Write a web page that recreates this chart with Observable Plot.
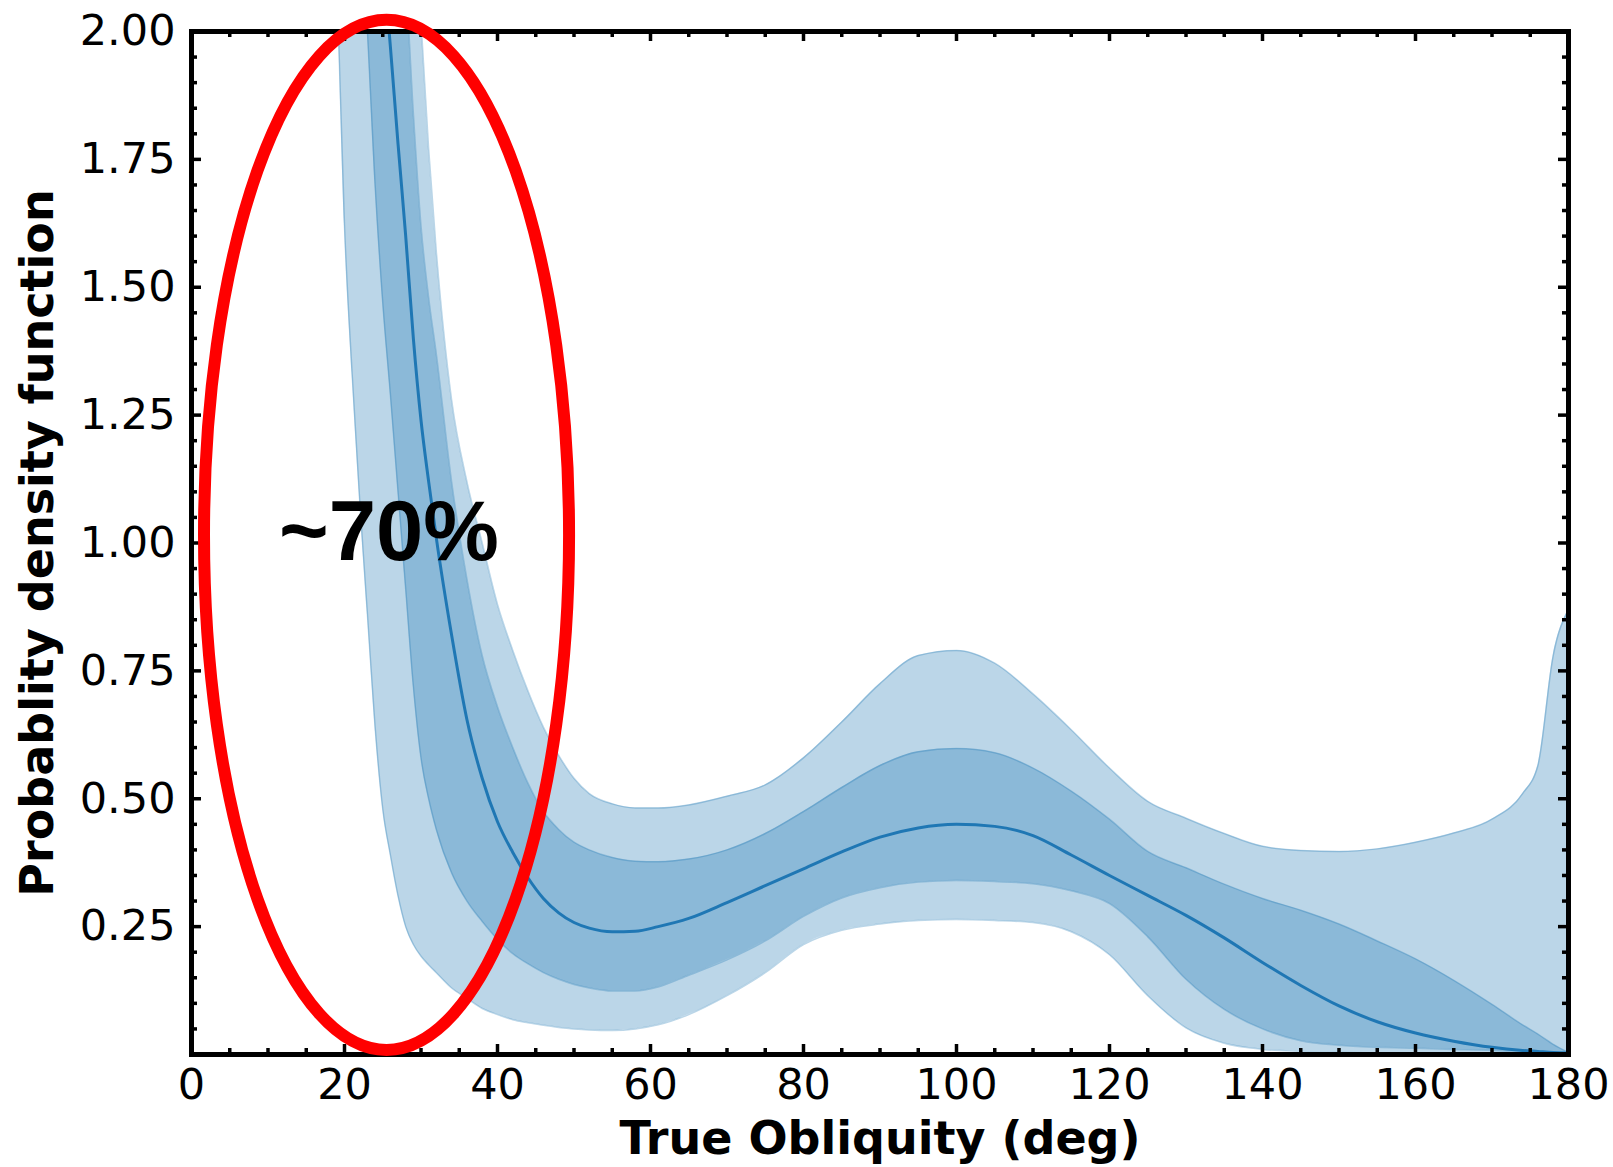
<!DOCTYPE html>
<html>
<head>
<meta charset="utf-8">
<script src="https://cdn.jsdelivr.net/npm/d3@7"></script>
<script src="https://cdn.jsdelivr.net/npm/@observablehq/plot@0.6"></script>
<style>
  html, body { margin: 0; padding: 0; background: #ffffff; }
  #chart svg { display: block; }
</style>
</head>
<body>
<div id="chart"></div>
<script>
// ---------- data ----------
const obliquity = [17,18,19,20,21,22,23,24,25,26,27,28,29,30,31,32,34,36,38,40,42,44,46,48,50,52,55,58,61,65,70,75,80,85,90,95,100,105,110,115,120,125,130,135,140,145,150,155,160,165,170,174,176,178,180];
const lower2 = [2.80,2.45,2.10,1.62,1.33,1.08,0.86,0.64,0.48,0.39,0.31,0.25,0.215,0.192,0.175,0.16,0.13,0.11,0.09,0.078,0.068,0.062,0.057,0.053,0.050,0.048,0.047,0.050,0.058,0.078,0.115,0.160,0.215,0.243,0.255,0.262,0.264,0.262,0.258,0.240,0.195,0.115,0.052,0.022,0.010,0.006,0.004,0.003,0.002,0.001,0.001,0,0,0,0];
const lower1 = [4.0,3.6,3.2,2.8,2.5,2.25,2.0,1.70,1.47,1.29,1.10,0.91,0.72,0.58,0.50,0.44,0.355,0.30,0.26,0.225,0.197,0.177,0.160,0.147,0.137,0.130,0.124,0.124,0.132,0.155,0.185,0.222,0.270,0.306,0.326,0.337,0.340,0.338,0.334,0.320,0.295,0.230,0.147,0.088,0.050,0.027,0.018,0.014,0.012,0.010,0.008,0.005,0.004,0.002,0];
const median = [5.0,4.5,4.0,3.55,3.15,2.82,2.55,2.33,2.15,1.97,1.78,1.60,1.40,1.24,1.12,1.01,0.82,0.655,0.54,0.455,0.395,0.345,0.305,0.277,0.258,0.247,0.240,0.241,0.250,0.266,0.297,0.330,0.363,0.396,0.425,0.443,0.450,0.446,0.428,0.390,0.350,0.311,0.272,0.228,0.180,0.135,0.095,0.064,0.042,0.026,0.014,0.008,0.006,0.004,0.003];
const upper1 = [6.0,5.4,4.8,4.3,3.85,3.45,3.10,2.80,2.55,2.37,2.22,2.10,1.84,1.62,1.48,1.37,1.12,0.93,0.78,0.68,0.60,0.53,0.475,0.44,0.415,0.400,0.385,0.378,0.377,0.382,0.400,0.432,0.475,0.522,0.565,0.592,0.598,0.590,0.560,0.515,0.460,0.397,0.365,0.333,0.305,0.282,0.255,0.222,0.187,0.145,0.098,0.058,0.040,0.020,0.004];
const upper2 = [7.0,6.3,5.6,5.0,4.5,4.0,3.6,3.25,2.95,2.70,2.55,2.40,2.22,2.02,1.77,1.57,1.28,1.12,1.00,0.88,0.79,0.71,0.64,0.585,0.54,0.51,0.49,0.482,0.482,0.488,0.505,0.527,0.580,0.650,0.725,0.780,0.790,0.765,0.705,0.635,0.560,0.495,0.462,0.432,0.407,0.399,0.397,0.402,0.415,0.433,0.460,0.510,0.565,0.780,0.870];

const xTickValues = [0,20,40,60,80,100,120,140,160,180];
const xTickLabels = ["0","20","40","60","80","100","120","140","160","180"];
const xMinorValues = [5,10,15,25,30,35,45,50,55,65,70,75,85,90,95,105,110,115,125,130,135,145,150,155,165,170,175];
const yTickValues = [0.25,0.50,0.75,1.00,1.25,1.50,1.75,2.00];
const yTickLabels = ["0.25","0.50","0.75","1.00","1.25","1.50","1.75","2.00"];
const yMinorValues = [0.05,0.10,0.15,0.20,0.30,0.35,0.40,0.45,0.55,0.60,0.65,0.70,0.80,0.85,0.90,0.95,1.05,1.10,1.15,1.20,1.30,1.35,1.40,1.45,1.55,1.60,1.65,1.70,1.80,1.85,1.90,1.95];

const xAxisLabel = "True Obliquity (deg)";
const yAxisLabel = "Probablity density function";
const annotationText = [{x: 25.8, y: 1.019, text: "~70%"}];
const annotationEllipse = [{cx: 25.56, cy: 1.015, rx: 23.86, ry: 1.007}];

// ---------- table for the library ----------
const table = obliquity.map((x, i) => ({
  x, lo2: lower2[i], lo1: lower1[i], med: median[i], hi1: upper1[i], hi2: upper2[i]
}));

// ---------- layout ----------
const W = 1613, H = 1167;
const mL = 191, mR = 45, mT = 31, mB = 113;
const pxPerX = (W - mL - mR) / 180;
const pxPerY = (H - mT - mB) / 2;
const majLen = 10, minLen = 6;
const majX = majLen / pxPerX, minX = minLen / pxPerX;
const majY = majLen / pxPerY, minY = minLen / pxPerY;
const blue = "#1f77b4";

function ellipseMark() {
  const s = Array.from(arguments).find(a => a && typeof a.x === "function" && typeof a.y === "function");
  const g = d3.create("svg:g");
  if (!s) return g.node();
  for (const e of annotationEllipse) {
    const cx = s.x(e.cx), cy = s.y(e.cy);
    g.append("ellipse")
      .attr("cx", cx).attr("cy", cy)
      .attr("rx", Math.abs(s.x(e.cx + e.rx) - cx))
      .attr("ry", Math.abs(s.y(e.cy - e.ry) - cy))
      .attr("fill", "none")
      .attr("stroke", "#ff0000")
      .attr("stroke-width", 12);
  }
  return g.node();
}

const xLabelMap = new Map(xTickValues.map((v, i) => [v, xTickLabels[i]]));
const yLabelMap = new Map(yTickValues.map((v, i) => [v, yTickLabels[i]]));

const chart = Plot.plot({
  width: W,
  height: H,
  marginLeft: mL,
  marginRight: mR,
  marginTop: mT,
  marginBottom: mB,
  style: {fontFamily: "'DejaVu Sans', sans-serif", fontSize: "43px", background: "#ffffff", color: "#000000", overflow: "visible"},
  x: {domain: [0, 180]},
  y: {domain: [0, 2]},
  marks: [
    // 2-sigma band
    Plot.areaY(table, {x: "x", y1: "lo2", y2: "hi2", fill: blue, fillOpacity: 0.3, curve: "monotone-x", clip: true}),
    Plot.line(table, {x: "x", y: "lo2", stroke: blue, strokeOpacity: 0.3, strokeWidth: 1.5, curve: "monotone-x", clip: true}),
    Plot.line(table, {x: "x", y: "hi2", stroke: blue, strokeOpacity: 0.3, strokeWidth: 1.5, curve: "monotone-x", clip: true}),
    // 1-sigma band
    Plot.areaY(table, {x: "x", y1: "lo1", y2: "hi1", fill: blue, fillOpacity: 0.3, curve: "monotone-x", clip: true}),
    Plot.line(table, {x: "x", y: "lo1", stroke: blue, strokeOpacity: 0.3, strokeWidth: 1.5, curve: "monotone-x", clip: true}),
    Plot.line(table, {x: "x", y: "hi1", stroke: blue, strokeOpacity: 0.3, strokeWidth: 1.5, curve: "monotone-x", clip: true}),
    // median
    Plot.line(table, {x: "x", y: "med", stroke: blue, strokeWidth: 3, curve: "monotone-x", clip: true}),
    // inward ticks on all four sides
    Plot.ruleX(xTickValues, {x: d => d, y1: 0, y2: majY, stroke: "black", strokeWidth: 3.5}),
    Plot.ruleX(xTickValues, {x: d => d, y1: 2, y2: 2 - majY, stroke: "black", strokeWidth: 3.5}),
    Plot.ruleX(xMinorValues, {x: d => d, y1: 0, y2: minY, stroke: "black", strokeWidth: 3.5}),
    Plot.ruleX(xMinorValues, {x: d => d, y1: 2, y2: 2 - minY, stroke: "black", strokeWidth: 3.5}),
    Plot.ruleY(yTickValues, {y: d => d, x1: 0, x2: majX, stroke: "black", strokeWidth: 3.5}),
    Plot.ruleY(yTickValues, {y: d => d, x1: 180, x2: 180 - majX, stroke: "black", strokeWidth: 3.5}),
    Plot.ruleY(yMinorValues, {y: d => d, x1: 0, x2: minX, stroke: "black", strokeWidth: 3.5}),
    Plot.ruleY(yMinorValues, {y: d => d, x1: 180, x2: 180 - minX, stroke: "black", strokeWidth: 3.5}),
    Plot.frame({stroke: "black", strokeWidth: 5}),
    // axes (labels only)
    Plot.axisX({ticks: xTickValues, anchor: "bottom", tickSize: 0, tickPadding: 14, fontSize: 43, label: null, tickFormat: d => xLabelMap.get(d)}),
    Plot.axisY({ticks: yTickValues, anchor: "left", tickSize: 0, tickPadding: 16, fontSize: 43, label: null, tickFormat: d => yLabelMap.get(d)}),
    // axis titles
    Plot.text([xAxisLabel], {frameAnchor: "bottom", dy: 85, text: d => d, fontSize: 46, fontWeight: "bold", lineAnchor: "middle", textAnchor: "middle", fill: "black"}),
    Plot.text([yAxisLabel], {frameAnchor: "left", dx: -153, rotate: -90, text: d => d, fontSize: 46, fontWeight: "bold", lineAnchor: "middle", textAnchor: "middle", fill: "black"}),
    // annotation
    Plot.text(annotationText, {x: "x", y: "y", text: "text", fontSize: 85, fontWeight: "bold", fontFamily: "'Liberation Sans', Arial, sans-serif", lineAnchor: "middle", fill: "black"}),
    ellipseMark
  ]
});

document.getElementById("chart").appendChild(chart);
</script>
</body>
</html>
